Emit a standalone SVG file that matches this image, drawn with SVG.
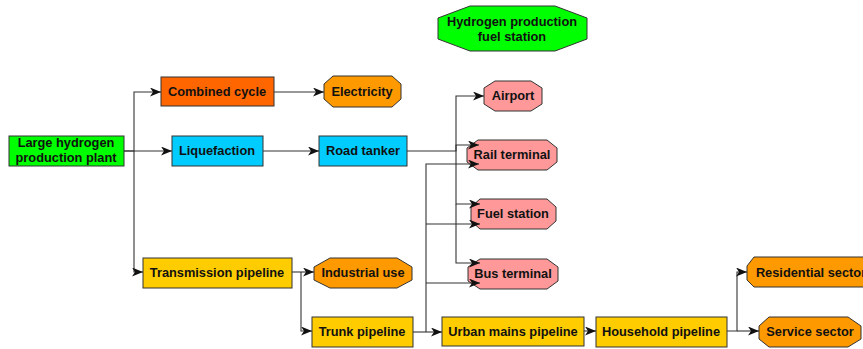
<svg xmlns="http://www.w3.org/2000/svg" width="863" height="349" viewBox="0 0 863 349">
<defs>
<marker id="arr" markerUnits="userSpaceOnUse" markerWidth="12" markerHeight="10" refX="11" refY="4.5" orient="auto">
<path d="M0,0 L11,4.5 L0,9 L3,4.5 z" fill="#111"/>
</marker>
<style>
.n{stroke:#333;stroke-width:1}
.t{font-family:"Liberation Sans",Arial,sans-serif;font-weight:bold;font-size:12.8px;fill:#111;text-anchor:middle}
.c{fill:none;stroke:#333;stroke-width:1.1}
.a{marker-end:url(#arr)}
.green{fill:#00ff00}.red{fill:#ff6600}.cyan{fill:#00ccff}.org{fill:#ff9900}.pink{fill:#ff9999}.yel{fill:#ffcc00}
</style>
</defs>
<rect width="863" height="349" fill="#fff"/>
<g id="nodes">
<g id="h2station"><polygon class="n green" points="470,6 555,6 587,18 587,39 555,51 470,51 438,39 438,18"/><text class="t" x="512" y="26">Hydrogen production</text><text class="t" x="512" y="41">fuel station</text></g>
<g id="plant"><rect class="n green" x="9" y="136" width="115" height="30"/><text class="t" x="66" y="147">Large hydrogen</text><text class="t" x="66" y="162">production plant</text></g>
<g id="combined"><rect class="n red" x="161" y="77" width="113" height="29"/><text class="t" x="217" y="96">Combined cycle</text></g>
<g id="electricity"><polygon class="n org" points="333,76 392,76 401,84 401,99 392,107 333,107 324,99 324,84"/><text class="t" x="362" y="96">Electricity</text></g>
<g id="liquefaction"><rect class="n cyan" x="172" y="136" width="91" height="30"/><text class="t" x="217" y="155">Liquefaction</text></g>
<g id="roadtanker"><rect class="n cyan" x="319" y="136" width="88" height="30"/><text class="t" x="363" y="155">Road tanker</text></g>
<g id="airport"><polygon class="n pink" points="495,81 531,81 542,88 542,104 531,111 495,111 484,104 484,88"/><text class="t" x="513" y="100">Airport</text></g>
<g id="rail"><polygon class="n pink" points="478,140 547,140 557,148 557,162 547,170 478,170 467,162 467,148"/><text class="t" x="512" y="159">Rail terminal</text></g>
<g id="fuel"><polygon class="n pink" points="480,199 547,199 556,207 556,221 547,229 480,229 471,221 471,207"/><text class="t" x="513" y="218">Fuel station</text></g>
<g id="bus"><polygon class="n pink" points="480,259 547,259 558,267 558,281 547,289 480,289 468,281 468,267"/><text class="t" x="513" y="278">Bus terminal</text></g>
<g id="transmission"><rect class="n yel" x="143" y="258" width="149" height="30"/><text class="t" x="217" y="277">Transmission pipeline</text></g>
<g id="industrial"><polygon class="n org" points="330,258 397,258 412,267 412,280 397,288 330,288 314,280 314,267"/><text class="t" x="363" y="277">Industrial use</text></g>
<g id="trunk"><rect class="n yel" x="312" y="317" width="101" height="30"/><text class="t" x="362" y="336">Trunk pipeline</text></g>
<g id="urban"><rect class="n yel" x="442" y="317" width="142" height="29"/><text class="t" x="513" y="336">Urban mains pipeline</text></g>
<g id="household"><rect class="n yel" x="596" y="317" width="131" height="30"/><text class="t" x="661" y="336">Household pipeline</text></g>
<g id="residential"><polygon class="n org" points="754,257 866,257 876,266 876,280 866,287 754,287 747,280 747,266"/><text class="t" x="811" y="277">Residential sector</text></g>
<g id="service"><polygon class="n org" points="769,317 848,317 861,326 861,339 848,347 769,347 759,339 759,326"/><text class="t" x="810" y="336">Service sector</text></g>
</g>
<g id="connectors">
<path class="c a" d="M124,151 H134 V92 H161"/>
<path class="c a" d="M124,151 H172"/>
<path class="c a" d="M134,151 V272 H143"/>
<path class="c a" d="M274,92 H324"/>
<path class="c a" d="M263,151 H319"/>
<path class="c a" d="M407,151 H456 V96 H484"/>
<path class="c a" d="M456,151 V145 H479"/>
<path class="c a" d="M456,151 V204 H480"/>
<path class="c a" d="M456,204 V263 H480"/>
<path class="c a" d="M413,332 H442"/>
<path class="c a" d="M426,332 V164 H479"/>
<path class="c a" d="M426,224 H480"/>
<path class="c a" d="M426,283 H480"/>
<path class="c a" d="M292,272 H314"/>
<path class="c a" d="M301,272 V331 H312"/>
<path class="c a" d="M584,331 H596"/>
<path class="c a" d="M727,331 H737 V272 H747"/>
<path class="c a" d="M737,331 H759"/>
</g>
</svg>
